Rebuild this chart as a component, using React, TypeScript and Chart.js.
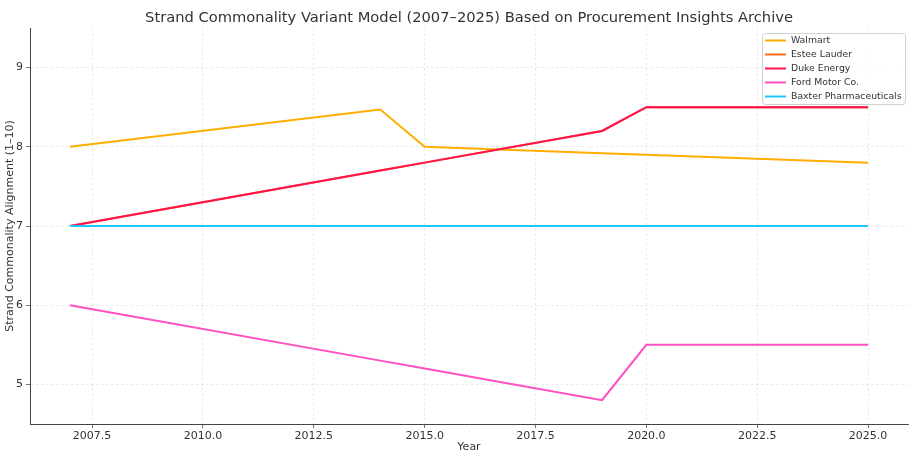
import { useEffect, useRef } from "react";
import { Chart, registerables } from "chart.js";

Chart.register(...registerables);

const years = [2007, 2014, 2015, 2019, 2020, 2025];
const walmart = [8.0, 8.47, 8.0, 7.92, 7.9, 7.8];
const esteeLauder = [7.0, 7.7, 7.8, 8.2, 8.5, 8.5];
const dukeEnergy = [7.0, 7.7, 7.8, 8.2, 8.5, 8.5];
const fordMotor = [6.0, 5.3, 5.2, 4.8, 5.5, 5.5];
const baxter = [7.0, 7.0, 7.0, 7.0, 7.0, 7.0];

const seriesNames = ["Walmart", "Estee Lauder", "Duke Energy", "Ford Motor Co.", "Baxter Pharmaceuticals"];
const seriesValues = [walmart, esteeLauder, dukeEnergy, fordMotor, baxter];
const seriesColors = ["#ffae00", "#ff6a1a", "#ff1450", "#ff4fc0", "#1ec8ff"];

const xTicks = [2007.5, 2010, 2012.5, 2015, 2017.5, 2020, 2022.5, 2025];
const yTicks = [5, 6, 7, 8, 9];

const TITLE = "Strand Commonality Variant Model (2007\u20132025) Based on Procurement Insights Archive";
const FONT = "'DejaVu Sans', sans-serif";

// title, axis titles + legend drawn by hand, matplotlib style
const extras = {
  id: "extras",
  afterDatasetsDraw(chart: Chart) {
    const { ctx, chartArea } = chart;
    const midX = (chartArea.left + chartArea.right) / 2;
    ctx.save();
    ctx.fillStyle = "#333";
    ctx.textAlign = "center";
    ctx.textBaseline = "middle";
    ctx.font = `14.7px ${FONT}`;
    ctx.fillText(TITLE, midX, 18);
    ctx.font = `11px ${FONT}`;
    ctx.fillText("Year", midX, 447);
    ctx.translate(10, (chartArea.top + chartArea.bottom) / 2);
    ctx.rotate(-Math.PI / 2);
    ctx.fillText("Strand Commonality Alignment (1\u201310)", 0, 0);
    ctx.restore();

    // legend box
    ctx.save();
    const bx = 762, by = 33, bw = 143, bh = 71;
    ctx.beginPath();
    ctx.roundRect(bx + 0.5, by + 0.5, bw, bh, 3);
    ctx.fillStyle = "rgba(255,255,255,0.85)";
    ctx.fill();
    ctx.strokeStyle = "#d0d0d0";
    ctx.lineWidth = 1;
    ctx.stroke();
    ctx.font = `9.3px ${FONT}`;
    ctx.textBaseline = "middle";
    ctx.textAlign = "left";
    chart.data.datasets.forEach((ds, i) => {
      const y = by + 7.5 + i * 14;
      ctx.strokeStyle = ds.borderColor as string;
      ctx.lineWidth = 2;
      ctx.beginPath();
      ctx.moveTo(bx + 3, y);
      ctx.lineTo(bx + 24, y);
      ctx.stroke();
      ctx.fillStyle = "#333";
      ctx.fillText(ds.label as string, bx + 29, y);
    });
    ctx.restore();
  },
};

export default function App() {
  const canvasRef = useRef<HTMLCanvasElement>(null);

  useEffect(() => {
    document.body.style.margin = "0";
    if (!canvasRef.current) return;
    const ctx = canvasRef.current.getContext("2d");
    if (!ctx) return;

    const gridStyle = {
      color: "rgba(0,0,0,0.11)",
      lineWidth: 0.8,
      tickLength: 4,
      tickColor: "#555",
      drawTicks: true,
    };

    const chart = new Chart(ctx, {
      type: "line",
      data: {
        datasets: seriesNames.map((name, i) => ({
          label: name,
          data: years.map((yr, j) => ({ x: yr, y: seriesValues[i][j] })),
          borderColor: seriesColors[i],
          backgroundColor: seriesColors[i],
          borderWidth: 2,
          pointRadius: 0,
          tension: 0,
          fill: false,
          order: seriesNames.length - i,
        })),
      },
      options: {
        responsive: true,
        maintainAspectRatio: false,
        animation: false,
        layout: { padding: { left: 0, right: 5, top: 28, bottom: 0 } },
        plugins: {
          legend: { display: false },
          tooltip: { enabled: false },
          title: { display: false },
        },
        scales: {
          x: {
            type: "linear",
            min: 2006.1,
            max: 2025.9,
            afterBuildTicks: (s: any) => {
              s.ticks = xTicks.map((v) => ({ value: v }));
            },
            afterFit: (s: any) => {
              s.height = 32;
            },
            ticks: {
              color: "#333",
              font: { family: FONT, size: 11 },
              padding: 2,
              maxRotation: 0,
              autoSkip: false,
              callback: (v: any) => Number(v).toFixed(1),
            },
            grid: { ...gridStyle } as any,
            border: { display: true, color: "#444", width: 1, dash: [2.5, 2.5] } as any,
          },
          y: {
            type: "linear",
            min: 4.5,
            max: 9.5,
            afterBuildTicks: (s: any) => {
              s.ticks = yTicks.map((v) => ({ value: v }));
            },
            afterFit: (s: any) => {
              s.width = 30;
            },
            ticks: {
              color: "#333",
              font: { family: FONT, size: 11 },
              padding: 3,
              autoSkip: false,
              callback: (v: any) => String(v),
            },
            grid: gridStyle as any,
            border: { display: true, color: "#444", width: 1, dash: [2.5, 2.5] } as any,
          },
        },
      },
      plugins: [extras],
    });

    return () => {
      chart.destroy();
    };
  }, []);

  return (
    <div style={{ width: 913, height: 456, position: "relative" }}>
      <canvas ref={canvasRef} />
    </div>
  );
}
